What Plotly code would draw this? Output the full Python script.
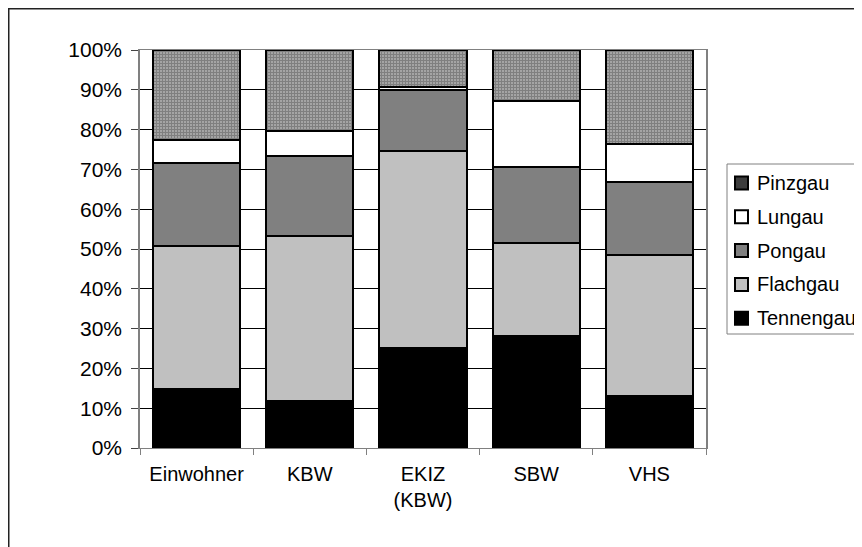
import plotly.graph_objects as go

categories = ["Einwohner", "KBW", "EKIZ<br>(KBW)", "SBW", "VHS"]
tennengau = [14.7, 11.9, 25.2, 28.2, 13.1]
flachgau = [36.0, 41.4, 49.3, 23.2, 35.4]
pongau = [20.8, 20.1, 15.4, 19.1, 18.3]
lungau = [5.9, 6.2, 0.7, 16.6, 9.6]
pinzgau = [22.6, 20.4, 9.4, 12.9, 23.6]
y_ticks = [0, 10, 20, 30, 40, 50, 60, 70, 80, 90, 100]
y_tick_labels = [f"{v}%" for v in y_ticks]

FONT = "Liberation Sans"
series = [
    ("Tennengau", tennengau, "#000000", None),
    ("Flachgau", flachgau, "#c0c0c0", None),
    ("Pongau", pongau, "#808080", None),
    ("Lungau", lungau, "#ffffff", None),
    ("Pinzgau", pinzgau, "#ffffff", "+"),
]

fig = go.Figure()
for name, vals, color, pat in series:
    marker = dict(color=color, line=dict(color="#000000", width=2))
    if pat:
        marker["pattern"] = dict(shape=pat, fgcolor="#000000", bgcolor="#ffffff",
                                 size=3, solidity=0.85, fillmode="overlay")
    fig.add_trace(go.Bar(x=categories, y=vals, name=name, marker=marker,
                         showlegend=False, hoverinfo="skip"))

W, H = 862, 547
L, T = 132, 42
pw, ph = 566, 398
R, B = W - L - pw, H - T - ph

def px_x(p):
    return (p - L) / pw

def px_y(p):
    return (T + ph - p) / ph

shapes = [
    # outer chart border (figure edge)
    dict(type="line", xref="paper", yref="paper",
         x0=px_x(0), x1=px_x(W), y0=px_y(0.75), y1=px_y(0.75),
         line=dict(color="#222222", width=1.5)),
    dict(type="line", xref="paper", yref="paper",
         x0=px_x(0.75), x1=px_x(0.75), y0=px_y(0), y1=px_y(H),
         line=dict(color="#222222", width=1.5)),
    # legend box
    dict(type="rect", xref="paper", yref="paper",
         x0=px_x(719), x1=px_x(W + 10), y0=px_y(156), y1=px_y(326),
         line=dict(color="#808080", width=1), fillcolor="#ffffff", layer="above"),
]
annotations = []
leg_top, leg_step = 175, 33.8
for k, (name, vals, color, pat) in enumerate(reversed(series)):
    cy = leg_top + k * leg_step
    fill = "#3c3c3c" if pat else color
    shapes.append(dict(type="rect", xref="paper", yref="paper",
                       x0=px_x(727), x1=px_x(740), y0=px_y(cy - 6.5), y1=px_y(cy + 6.5),
                       line=dict(color="#000000", width=2), fillcolor=fill, layer="above"))
    annotations.append(dict(xref="paper", yref="paper", x=px_x(747), y=px_y(cy),
                            xanchor="left", yanchor="middle", text=name, showarrow=False,
                            font=dict(family=FONT, size=20, color="#000000")))

fig.update_layout(
    width=W, height=H,
    margin=dict(l=L, r=R, t=T, b=B, pad=0),
    barmode="stack", bargap=0.23,
    paper_bgcolor="#ffffff", plot_bgcolor="#ffffff",
    font=dict(family=FONT, size=20, color="#000000"),
    showlegend=False,
    xaxis=dict(
        showline=True, linecolor="#808080", linewidth=1, mirror=True,
        ticks="outside", ticklen=6, tickcolor="#808080", tickson="boundaries",
        showgrid=False, tickfont=dict(family=FONT, size=20), ticklabelstandoff=8,
    ),
    yaxis=dict(
        range=[0, 100], tickvals=y_ticks, ticktext=y_tick_labels,
        showline=True, linecolor="#808080", linewidth=1.5, mirror=True,
        ticks="outside", ticklen=7, tickcolor="#444444",
        showgrid=True, gridcolor="#000000", gridwidth=1,
        tickfont=dict(family=FONT, size=21), ticklabelstandoff=5,
        zeroline=False,
    ),
    shapes=shapes,
    annotations=annotations,
)

fig.write_html("out.html")
